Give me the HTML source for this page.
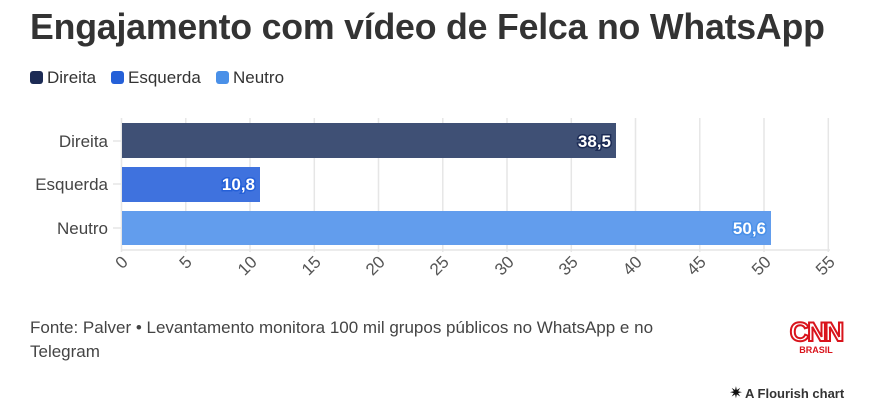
<!DOCTYPE html><html><head><meta charset="utf-8"><style>
body{margin:0;width:876px;height:411px;background:#fff;font-family:"Liberation Sans",sans-serif;overflow:hidden;position:relative}
.t{position:absolute;left:30px;top:7px;font-size:35.7px;font-weight:bold;color:#333;letter-spacing:-0.2px}
.lg{position:absolute;top:68px;font-size:17px;color:#333}
.sw{display:inline-block;width:13px;height:13px;border-radius:3px;vertical-align:-1px;margin-right:4px}
.src{position:absolute;left:30px;top:316px;font-size:17px;color:#444;line-height:24px;width:690px}
</style></head><body>
<div class="t">Engajamento com vídeo de Felca no WhatsApp</div>
<div class="lg" style="left:30px"><span class="sw" style="background:#1c2b55"></span>Direita</div>
<div class="lg" style="left:111px"><span class="sw" style="background:#2560d8"></span>Esquerda</div>
<div class="lg" style="left:216px"><span class="sw" style="background:#4a90e8"></span>Neutro</div>
<svg width="876" height="411" style="position:absolute;left:0;top:0" font-family="Liberation Sans,sans-serif">
<g stroke="#e6e6e6" stroke-width="1.5">
<line x1="185.8" y1="118" x2="185.8" y2="252"/><line x1="250" y1="118" x2="250" y2="252"/><line x1="314.3" y1="118" x2="314.3" y2="252"/><line x1="378.5" y1="118" x2="378.5" y2="252"/><line x1="442.8" y1="118" x2="442.8" y2="252"/><line x1="507" y1="118" x2="507" y2="252"/><line x1="571.3" y1="118" x2="571.3" y2="252"/><line x1="635.5" y1="118" x2="635.5" y2="252"/><line x1="699.8" y1="118" x2="699.8" y2="252"/><line x1="764" y1="118" x2="764" y2="252"/><line x1="828.3" y1="118" x2="828.3" y2="252"/>
<line x1="121.5" y1="118" x2="121.5" y2="252"/><line x1="121.5" y1="250" x2="830" y2="250"/>
<line x1="113" y1="141" x2="121" y2="141"/><line x1="113" y1="184" x2="121" y2="184"/><line x1="113" y1="228" x2="121" y2="228"/>
</g>
<rect x="122" y="123" width="494" height="35" fill="#3f5075"/>
<rect x="122" y="167" width="138" height="35" fill="#3f72de"/>
<rect x="122" y="211" width="649" height="34" fill="#629ded"/>
<g font-size="17" fill="#444" text-anchor="end"><text x="108" y="147">Direita</text><text x="108" y="190">Esquerda</text><text x="108" y="234">Neutro</text></g>
<g font-size="17" font-weight="bold" fill="#fff" text-anchor="end"><text x="611" y="147" stroke="#1c2b55" stroke-width="3" paint-order="stroke">38,5</text><text x="255" y="190" stroke="#2560d8" stroke-width="3" paint-order="stroke">10,8</text><text x="766" y="234" stroke="#4a90e8" stroke-width="3" paint-order="stroke">50,6</text></g>
<g font-size="17" fill="#555" text-anchor="end">
<text transform="translate(129,263) rotate(-45)">0</text><text transform="translate(193,263) rotate(-45)">5</text><text transform="translate(258,263) rotate(-45)">10</text><text transform="translate(322,263) rotate(-45)">15</text><text transform="translate(386,263) rotate(-45)">20</text><text transform="translate(450,263) rotate(-45)">25</text><text transform="translate(515,263) rotate(-45)">30</text><text transform="translate(579,263) rotate(-45)">35</text><text transform="translate(643,263) rotate(-45)">40</text><text transform="translate(707,263) rotate(-45)">45</text><text transform="translate(772,263) rotate(-45)">50</text><text transform="translate(836,263) rotate(-45)">55</text>
</g>
<text x="816" y="341" font-size="27" font-weight="bold" fill="none" stroke="#d9141c" stroke-width="2" text-anchor="middle" letter-spacing="-2">CNN</text>
<text x="816" y="353" font-size="9" font-weight="bold" fill="#d9141c" text-anchor="middle">BRASIL</text>
<text x="736" y="398" font-size="16" fill="#111" text-anchor="middle">✷</text>
<text x="745" y="398" font-size="13" font-weight="bold" fill="#333">A Flourish chart</text>
</svg>
<div class="src">Fonte: Palver • Levantamento monitora 100 mil grupos públicos no WhatsApp e no<br>Telegram</div>
</body></html>
